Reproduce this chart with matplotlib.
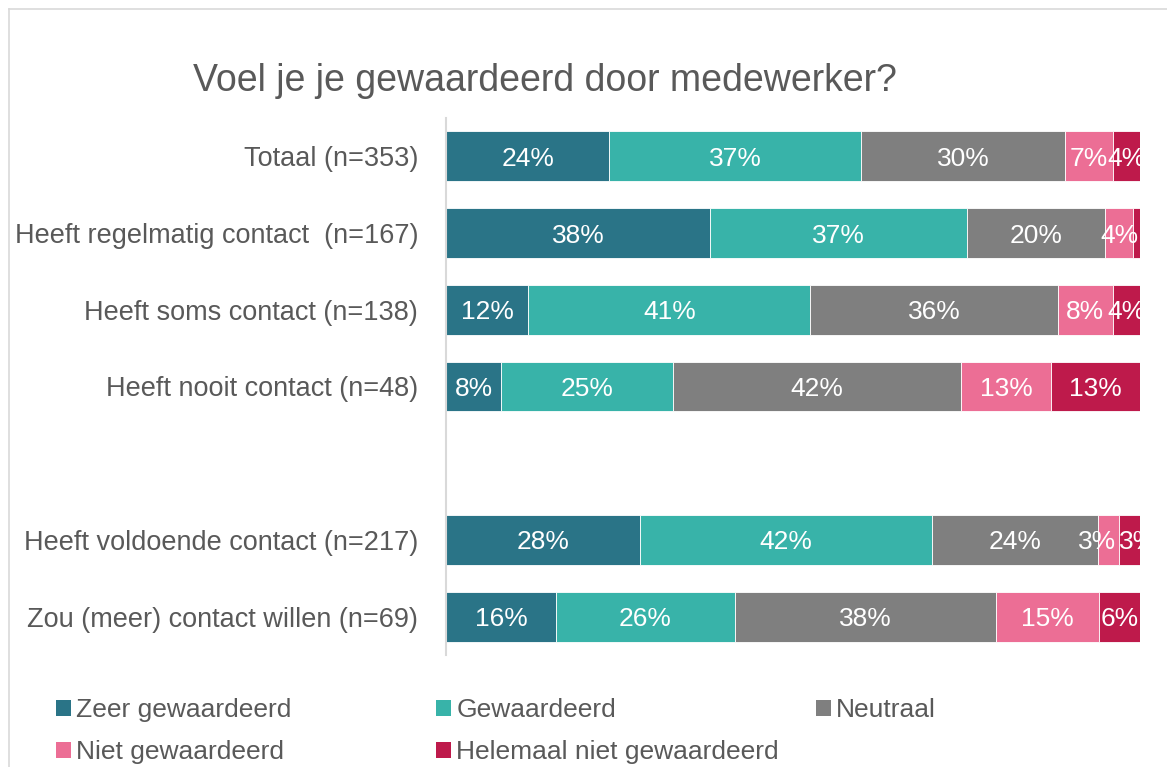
import matplotlib
matplotlib.use("Agg")
import matplotlib.pyplot as plt
from matplotlib.lines import Line2D
from matplotlib.patches import Patch
import numpy as np

plt.rcParams["font.family"] = ["Liberation Sans", "DejaVu Sans"]

# survey answers per group (percentages as reported)
categories = [
    "Totaal (n=353)",
    "Heeft regelmatig contact  (n=167)",
    "Heeft soms contact (n=138)",
    "Heeft nooit contact (n=48)",
    "Heeft voldoende contact (n=217)",
    "Zou (meer) contact willen (n=69)",
]
zeer_gewaardeerd = [24, 38, 12, 8, 28, 16]
gewaardeerd = [37, 37, 41, 25, 42, 26]
neutraal = [30, 20, 36, 42, 24, 38]
niet_gewaardeerd = [7, 4, 8, 13, 3, 15]
helemaal_niet = [4, 1, 4, 13, 3, 6]

series_names = ["Zeer gewaardeerd", "Gewaardeerd", "Neutraal",
                "Niet gewaardeerd", "Helemaal niet gewaardeerd"]
series_colors = ["#2A7487", "#38B3A9", "#7F7F7F", "#EC6E95", "#BE1A4B"]
text_grey = "#595959"
frame_grey = "#D9D9D9"

# first four rows are contact frequency, last two contact wish; one empty slot between
block_sizes = [4, 2]
positions = []
start = 0
for size in block_sizes:
    positions.extend(range(start, start + size))
    start += size + 1
positions = np.array(positions)

data = np.array([zeer_gewaardeerd, gewaardeerd, neutraal,
                 niet_gewaardeerd, helemaal_niet], dtype=float)
shares = data / data.sum(axis=0) * 100  # 100% stacked

fig = plt.figure(figsize=(11.67, 7.67), dpi=100)
ax = fig.add_axes([446 / 1167, 1 - 655 / 767, (1140 - 446) / 1167, (655 - 118) / 767])
ax.set_xlim(0, 100)
ax.set_ylim(start - 1 - 0.5, -0.5)

labels = [[] for _ in categories]  # (text, segment left, segment width) per row
left = np.zeros(len(categories))
for name, color, vals, raw in zip(series_names, series_colors, shares, data):
    ax.barh(positions, vals, left=left, height=0.65, color=color,
            edgecolor="white", linewidth=0.6, label=name)
    for row, (y, l, w, r) in enumerate(zip(positions, left, vals, raw)):
        if r < 2:
            continue
        t = ax.text(l + w / 2, y, f"{r:.0f}%", ha="center", va="center_baseline",
                    color="white", fontsize=19, clip_on=True)
        labels[row].append((t, l, w))
    left += vals
ax.set_xlim(0, 100)
ax.set_ylim(start - 1 - 0.5, -0.5)

# labels of two narrow neighbouring segments: push them apart to the shared edge
renderer = fig.canvas.get_renderer()
for row_labels in labels:
    for (t1, l1, w1), (t2, l2, w2) in zip(row_labels[:-1], row_labels[1:]):
        b1 = t1.get_window_extent(renderer)
        b2 = t2.get_window_extent(renderer)
        if b1.x1 - b2.x0 > 3:
            t1.set_x(l1 + w1 - 0.5)
            t1.set_ha("right")
            t2.set_x(l2)
            t2.set_ha("left")

ax.set_yticks(positions)
ax.set_yticklabels(categories, fontsize=19.5, color=text_grey)
ax.tick_params(axis="y", length=0, pad=20)
ax.set_xticks([])
for side in ["top", "right", "bottom"]:
    ax.spines[side].set_visible(False)
ax.spines["left"].set_color(frame_grey)
ax.spines["left"].set_linewidth(1.5)

fig.text(544.5 / 1167, 1 - 91 / 767, "Voel je je gewaardeerd door medewerker?",
         ha="center", va="baseline", fontsize=27, color=text_grey)

# legend entries laid out row-wise in three columns
legend_cols = [56, 436, 816]
legend_rows = [710, 752]
for i, (name, color) in enumerate(zip(series_names, series_colors)):
    x = legend_cols[i % 3] / 1167
    y = 1 - legend_rows[i // 3] / 767
    leg = fig.legend(handles=[Patch(facecolor=color, edgecolor="none")],
                     labels=[name], loc="center left", bbox_to_anchor=(x, y),
                     bbox_transform=fig.transFigure, frameon=False,
                     fontsize=19, handlelength=0.57, handleheight=0.57,
                     handletextpad=0.2, borderpad=0, borderaxespad=0)
    for t in leg.get_texts():
        t.set_color(text_grey)

# chart frame, open towards the right and bottom
fig.add_artist(Line2D([8.5 / 1167, 8.5 / 1167], [0, 1 - 8.5 / 767],
                      transform=fig.transFigure, color=frame_grey, lw=1.2))
fig.add_artist(Line2D([8.5 / 1167, 1], [1 - 8.5 / 767, 1 - 8.5 / 767],
                      transform=fig.transFigure, color=frame_grey, lw=1.2))

fig.savefig("out.png", dpi=100, facecolor="white")
